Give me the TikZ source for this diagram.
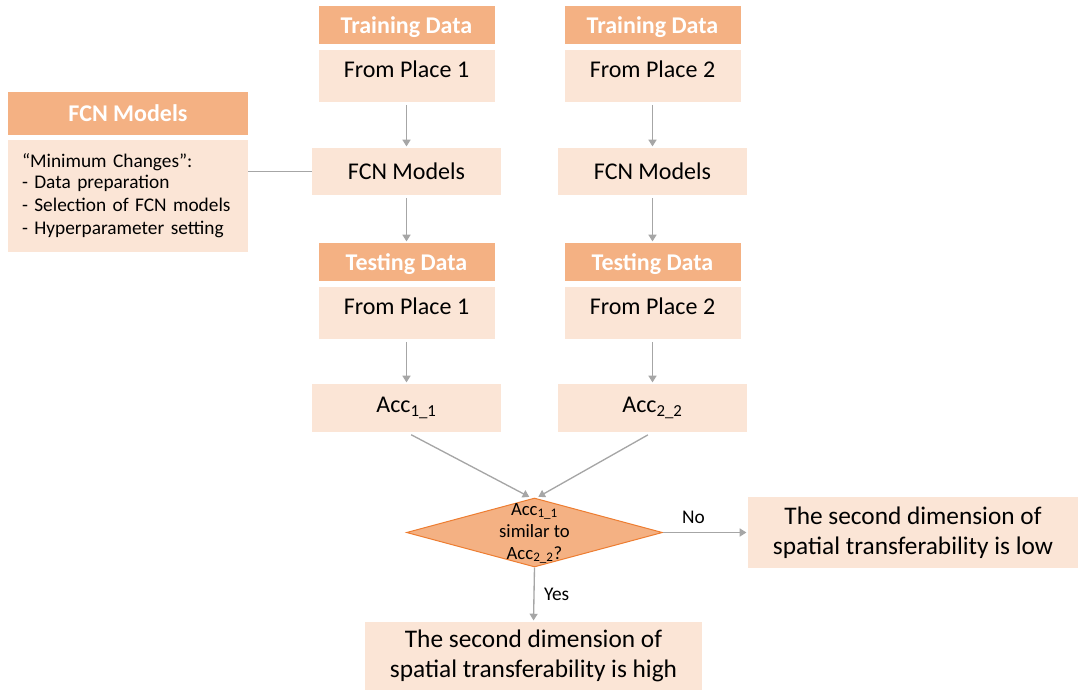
\documentclass[tikz,border=0pt]{standalone}
\usepackage{fontspec}
\setmainfont{Carlito}
\usetikzlibrary{shapes.geometric,arrows.meta}
\definecolor{headorange}{HTML}{F4B183}
\definecolor{bodypeach}{HTML}{FBE5D6}
\definecolor{diaedge}{HTML}{ED7D31}
\definecolor{arrowgray}{HTML}{A6A6A6}

\begin{document}
\begin{tikzpicture}[x=0.75pt,y=-0.75pt,
   head/.style={fill=headorange,text=white,font=\fontsize{18}{21}\selectfont\bfseries,
     minimum width=132pt,minimum height=28.5pt,inner sep=0pt,text depth=0pt},
   body/.style={fill=bodypeach,font=\fontsize{18}{21}\selectfont,minimum width=132pt,
     inner sep=0pt,text height=20.25pt,text depth=18.75pt},
   stepbox/.style={fill=bodypeach,font=\fontsize{18}{21}\selectfont,minimum width=141.75pt,
     minimum height=35.25pt,inner sep=0pt},
   result/.style={fill=bodypeach,font=\fontsize{19}{22.5}\selectfont,align=center,inner sep=0pt},
   flow/.style={draw=arrowgray,line width=1pt,-{Triangle[width=6pt,length=5pt]},
     shorten <=2pt,shorten >=1pt}]
   \useasboundingbox (0,0) rectangle (1078,690);

   \node[head,minimum width=180pt,minimum height=32.25pt] (fh) at (128,113.5) {FCN Models};
   \node[fill=bodypeach,font=\fontsize{14.5}{17.25}\selectfont,align=left,text width=159pt,
     inner xsep=10.5pt,inner ysep=0pt,minimum height=84pt] (fb) at (128,196)
     {\raisebox{-1.5pt}{“Minimum Changes”:}\\[0pt]- Data preparation\\- Selection of FCN models\\- Hyperparameter setting};

   \node[head] (th1) at (406.5,25) {Training Data};
   \node[body] (tb1) at (406.5,76) {From Place 1};
   \node[stepbox] (m1) at (406.5,171.5) {FCN Models};
   \node[head] (sh1) at (406.5,262) {Testing Data};
   \node[body] (sb1) at (406.5,313) {From Place 1};
   \node[stepbox,minimum height=36pt] (acc1) at (406.5,408) {Acc\textsubscript{1\_1}};

   \node[head] (th2) at (652.5,25) {Training Data};
   \node[body] (tb2) at (652.5,76) {From Place 2};
   \node[stepbox] (m2) at (652.5,171.5) {FCN Models};
   \node[head] (sh2) at (652.5,262) {Testing Data};
   \node[body] (sb2) at (652.5,313) {From Place 2};
   \node[stepbox,minimum height=36pt] (acc2) at (652.5,408) {Acc\textsubscript{2\_2}};

   \node[diamond,aspect=3.7,fill=headorange,draw=diaedge,line width=0.75pt,inner sep=0pt,
     minimum width=192pt,minimum height=51.75pt,font=\fontsize{14}{16.5}\selectfont] (dia) at (534.5,532.5)
     {\smash{\raisebox{-3.75pt}{\begin{tabular}{@{}c@{}}Acc\textsubscript{1\_1}\\similar to\\Acc\textsubscript{2\_2}?\end{tabular}}}};

   \node[result,minimum width=247.5pt,minimum height=53.25pt] (low) at (913,532.5)
     {The second dimension of\\spatial transferability is low};
   \node[result,minimum width=252.75pt,minimum height=51pt] (high) at (533.5,656)
     {The second dimension of\\spatial transferability is high};

   \draw[arrowgray,line width=1pt] (m1.west) -- (m1.west -| fb.east);
   \draw[flow] (tb1) -- (m1);
   \draw[flow] (m1) -- (sh1);
   \draw[flow] (sb1) -- (acc1);
   \draw[flow] (tb2) -- (m2);
   \draw[flow] (m2) -- (sh2);
   \draw[flow] (sb2) -- (acc2);
   \draw[flow,shorten <=4pt] (acc1.south) -- ([xshift=-3pt]dia.north);
   \draw[flow,shorten <=4pt] (acc2.south) -- ([xshift=2pt]dia.north);
   \draw[flow,shorten <=0pt] (dia.east) -- node[pos=.36,yshift=11pt,font=\fontsize{14.5}{17}\selectfont] {No} (low.west);
   \draw[flow,shorten <=0pt] (dia.south) -- node[pos=.5,xshift=17pt,font=\fontsize{14.5}{17}\selectfont] {Yes} (high.north);
\end{tikzpicture}
\end{document}
